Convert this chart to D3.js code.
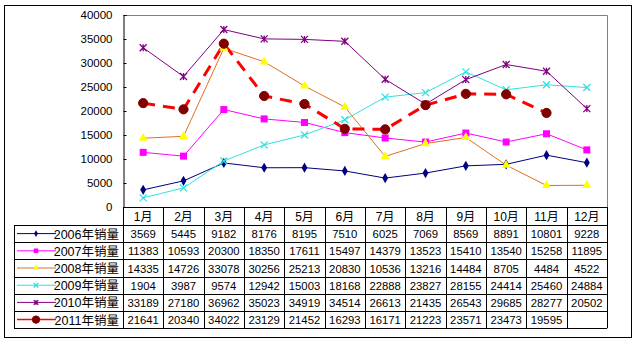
<!DOCTYPE html>
<html><head><meta charset="utf-8">
<script src="https://cdn.jsdelivr.net/npm/d3@7"></script>
<style>
body{margin:0;background:#fff;}
text{font-family:"Liberation Sans","Noto Sans CJK SC",sans-serif;}
</style></head><body>
<svg id="c" width="640" height="345"></svg>
<script>
const months = ["1月","2月","3月","4月","5月","6月","7月","8月","9月","10月","11月","12月"];
const seriesNames = ["2006年销量","2007年销量","2008年销量","2009年销量","2010年销量","2011年销量"];
const s2006 = [3569,5445,9182,8176,8195,7510,6025,7069,8569,8891,10801,9228];
const s2007 = [11383,10593,20300,18350,17611,15497,14379,13523,15410,13540,15258,11895];
const s2008 = [14335,14726,33078,30256,25213,20830,10536,13216,14484,8705,4484,4522];
const s2009 = [1904,3987,9574,12942,15003,18168,22888,23827,28155,24414,25460,24884];
const s2010 = [33189,27180,36962,35023,34919,34514,26613,21435,26543,29685,28277,20502];
const s2011 = [21641,20340,34022,23129,21452,16293,16171,21223,23571,23473,19595,null];
const yTicks = [0,5000,10000,15000,20000,25000,30000,35000,40000];

const series = [
  {name:seriesNames[0], values:s2006, line:"#000080", fill:"#000080", marker:"diamond", w:1},
  {name:seriesNames[1], values:s2007, line:"#FF00FF", fill:"#FF00FF", marker:"square", w:1},
  {name:seriesNames[2], values:s2008, line:"#E07020", fill:"#FFFF00", marker:"triangle", w:1},
  {name:seriesNames[3], values:s2009, line:"#33E0E0", fill:"#33E0E0", marker:"x", w:1},
  {name:seriesNames[4], values:s2010, line:"#800080", fill:"#800080", marker:"star", w:1},
  {name:seriesNames[5], values:s2011, line:"#FF0000", fill:"#800000", marker:"circle", w:3, dash:"12,8"}
];

const svg = d3.select("#c");
const L=123, R=607, T=15, B=207;
const rowH = 17.2, headerB = 225, legL = 14;

svg.append("rect").attr("x",4.5).attr("y",5.5).attr("width",627).attr("height",332)
  .attr("fill","#fff").attr("stroke","#000");

const x = d3.scaleBand().domain(months).range([L,R]).padding(0);
const y = d3.scaleLinear().domain([0,40000]).range([B,T]);
const cx = m => x(m) + x.bandwidth()/2;

svg.append("path").attr("d",`M${L},${T+0.5}H${R+0.5}V${B}`).attr("fill","none").attr("stroke","#808080");

const yAxis = d3.axisLeft(y).tickValues(yTicks).tickSize(-3).tickPadding(11).tickFormat(d3.format("d"));
const ya = svg.append("g").attr("transform",`translate(${L+0.5},0)`).call(yAxis);
ya.select(".domain").attr("stroke","#000");
ya.selectAll(".tick line").attr("stroke","#000");
ya.selectAll("text").attr("font-size",11.5).attr("fill","#000");

const line = d3.line().defined(d=>d!=null).x((d,i)=>cx(months[i])).y(d=>y(d));
series.forEach(s=>{
  svg.append("path").attr("d",line(s.values)).attr("fill","none")
    .attr("stroke",s.line).attr("stroke-width",s.w).attr("stroke-dasharray",s.dash||null);
});

function marker(g, s, px, py, k){
  k = k||1;
  if(s.marker==="diamond"){
    g.append("path").attr("d",d3.symbol(d3.symbolDiamond, 30*k*k)()).attr("transform",`translate(${px},${py})`).attr("fill",s.fill);
  } else if(s.marker==="square"){
    const r=3.5*k;
    g.append("rect").attr("x",px-r).attr("y",py-r).attr("width",2*r).attr("height",2*r).attr("fill",s.fill);
  } else if(s.marker==="triangle"){
    g.append("path").attr("d",d3.symbol(d3.symbolTriangle, 36*k*k)()).attr("transform",`translate(${px},${py})`).attr("fill",s.fill);
  } else if(s.marker==="x"){
    const r=3.5*k;
    g.append("path").attr("d",`M${px-r},${py-r}L${px+r},${py+r}M${px-r},${py+r}L${px+r},${py-r}`).attr("stroke",s.fill).attr("stroke-width",1.3);
  } else if(s.marker==="star"){
    const r=3.5*k;
    g.append("path").attr("d",`M${px-r},${py-r}L${px+r},${py+r}M${px-r},${py+r}L${px+r},${py-r}M${px},${py-r}V${py+r}`).attr("stroke",s.fill).attr("stroke-width",1.3);
  } else if(s.marker==="circle"){
    g.append("circle").attr("cx",px).attr("cy",py).attr("r",4.6*k).attr("fill",s.fill).attr("stroke","#800000");
  }
}
series.forEach(s=>{
  const g = svg.append("g");
  s.values.forEach((v,i)=>{ if(v!=null) marker(g,s,cx(months[i]),y(v)); });
});

const tg = svg.append("g");
const rowTop = i => headerB + i*rowH;
const bottom = rowTop(series.length);
tg.append("line").attr("x1",L).attr("x2",R).attr("y1",B+0.5).attr("y2",B+0.5).attr("stroke","#000");
for(let i=0;i<=series.length;i++){
  const yy = Math.round(rowTop(i))+0.5;
  tg.append("line").attr("x1",legL).attr("x2",R).attr("y1",yy).attr("y2",yy).attr("stroke","#000");
}
months.forEach((m,i)=>{
  const xx = Math.round(x(m))+0.5;
  tg.append("line").attr("x1",xx).attr("x2",xx).attr("y1",B).attr("y2",bottom).attr("stroke","#000");
});
tg.append("line").attr("x1",R+0.5).attr("x2",R+0.5).attr("y1",B).attr("y2",bottom).attr("stroke","#000");
tg.append("line").attr("x1",legL+0.5).attr("x2",legL+0.5).attr("y1",headerB).attr("y2",bottom).attr("stroke","#000");

months.forEach(m=>{
  tg.append("text").attr("x",cx(m)).attr("y",B+13.5).attr("text-anchor","middle")
    .attr("font-size",12).text(m);
});
series.forEach((s,i)=>{
  const yc = rowTop(i)+rowH/2;
  s.values.forEach((v,j)=>{
    if(v!=null) tg.append("text").attr("x",cx(months[j])).attr("y",yc+4.5).attr("text-anchor","middle")
      .attr("font-size",11.3).text(v);
  });
  tg.append("line").attr("x1",legL+3).attr("x2",legL+42).attr("y1",yc).attr("y2",yc)
    .attr("stroke",s.line).attr("stroke-width",s.marker==="circle"?1.5:1);
  marker(tg,s,legL+22,yc, s.marker==="circle"?0.8:0.65);
  tg.append("text").attr("x",L-4).attr("y",yc+5).attr("text-anchor","end")
    .attr("font-size",12.5).text(s.name);
});
</script>
</body></html>
